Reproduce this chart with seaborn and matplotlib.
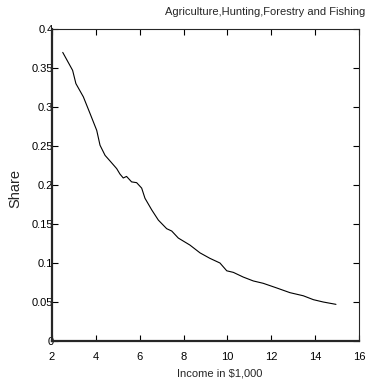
import pandas as pd
import seaborn as sns
import matplotlib
import matplotlib.pyplot as plt
from matplotlib.ticker import FormatStrFormatter

matplotlib.use("Agg")

# Datos
income = [2.49, 2.94, 3.09, 3.43, 3.73, 4.04, 4.19, 4.42, 4.64, 4.95,
          5.10, 5.25, 5.40, 5.63, 5.86, 6.09, 6.24, 6.55, 6.85, 7.23,
          7.46, 7.76, 8.29, 8.75, 9.20, 9.66, 9.97, 10.27, 10.72, 11.18,
          11.63, 12.25, 12.85, 13.46, 13.92, 14.37, 14.95]
share = [0.370, 0.347, 0.330, 0.313, 0.292, 0.270, 0.251, 0.238, 0.231, 0.221,
         0.214, 0.209, 0.211, 0.204, 0.203, 0.196, 0.183, 0.168, 0.155, 0.144,
         0.141, 0.132, 0.123, 0.113, 0.106, 0.100, 0.090, 0.088, 0.082, 0.077,
         0.074, 0.068, 0.062, 0.058, 0.053, 0.050, 0.047]
x_ticks = [2, 4, 6, 8, 10, 12, 14, 16]
y_ticks = [0, 0.05, 0.1, 0.15, 0.2, 0.25, 0.3, 0.35, 0.4]

df = pd.DataFrame({"income": income, "share": share})

sns.set_style("ticks")
plt.rcParams["font.family"] = ["Liberation Sans", "DejaVu Sans"]

fig = plt.figure(figsize=(3.68, 3.8), dpi=100)
ax = fig.add_axes([0.1413, 0.1026, 0.8342, 0.8211])

sns.lineplot(data=df, x="income", y="share", color="black", linewidth=0.8, ax=ax)

ax.set_xlim(2, 16)
ax.set_ylim(0, 0.4)
ax.set_xticks(x_ticks)
ax.set_yticks(y_ticks)
ax.yaxis.set_major_formatter(FormatStrFormatter("%g"))
ax.tick_params(direction="in", length=4, width=0.8, labelsize=8,
               top=True, right=True, colors="black")
ax.tick_params(axis="x", pad=8)
ax.tick_params(axis="y", pad=-1)

for side in ["left", "bottom"]:
    ax.spines[side].set_linewidth(1.6)
for side in ["top", "right"]:
    ax.spines[side].set_linewidth(0.8)
    ax.spines[side].set_visible(True)

ax.set_xlabel("Income in $1,000", fontsize=8)
ax.xaxis.set_label_coords(0.547, -0.088)
ax.set_ylabel("Share", fontsize=10.5)
ax.yaxis.set_label_coords(-0.095, 0.49)
fig.text(0.992, 0.968, "Agriculture,Hunting,Forestry and Fishing",
         ha="right", va="center", fontsize=8)

fig.savefig("out.png", dpi=100)
